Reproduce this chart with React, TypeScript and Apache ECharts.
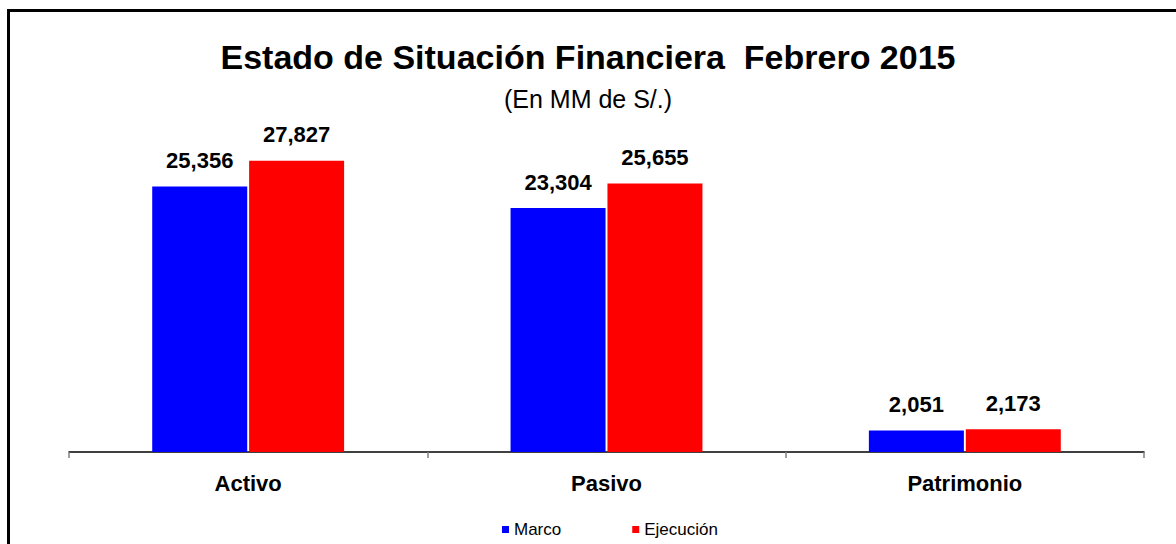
import React, { useEffect, useRef } from "react";
import * as echarts from "echarts";

const categories = ["Activo", "Pasivo", "Patrimonio"];
const marco = [25356, 23304, 2051];
const ejecucion = [27827, 25655, 2173];
const seriesNames = ["Marco", "Ejecución"];
const titleText = "Estado de Situación Financiera  Febrero 2015";
const subtitleText = "(En MM de S/.)";

const FONT = "'Liberation Sans', Arial, sans-serif";

export default function App() {
  const ref = useRef<HTMLDivElement>(null);
  useEffect(() => {
    if (!ref.current) return;
    const chart = echarts.init(ref.current, null, { renderer: "svg" });
    const fmt = (p: any) => Number(p.value).toLocaleString("en-US");
    const labelStyle = {
      show: true,
      position: "top",
      distance: 15,
      formatter: fmt,
      fontFamily: FONT,
      fontWeight: "bold",
      fontSize: 22,
      color: "#000",
    };
    chart.setOption({
      animation: false,
      backgroundColor: "#fff",
      title: [
        {
          text: titleText,
          left: "center",
          top: 35,
          textStyle: { fontFamily: FONT, fontWeight: "bold", fontSize: 34, color: "#000" },
        },
        {
          text: subtitleText,
          left: "center",
          top: 81,
          textStyle: { fontFamily: FONT, fontWeight: "normal", fontSize: 25, color: "#000" },
        },
      ],
      legend: {
        left: 497,
        top: 516,
        icon: "rect",
        itemWidth: 7,
        itemHeight: 7,
        itemGap: 71,
        textStyle: { fontFamily: FONT, fontSize: 17, color: "#000" },
        data: seriesNames,
      },
      grid: { left: 69, right: 32, top: 138, bottom: 92, containLabel: false },
      xAxis: {
        type: "category",
        data: categories,
        axisLine: { lineStyle: { color: "#000", width: 1.5 } },
        axisTick: { show: true, length: 6, lineStyle: { color: "#808080", width: 1.5 } },
        axisLabel: {
          margin: 20,
          fontFamily: FONT,
          fontWeight: "bold",
          fontSize: 22,
          color: "#000",
        },
      },
      yAxis: {
        type: "value",
        min: 0,
        max: 30000,
        show: false,
        splitLine: { show: false },
      },
      series: [
        {
          name: seriesNames[0],
          type: "bar",
          data: marco,
          barWidth: 95,
          barGap: "2%",
          itemStyle: { color: "#0000FF" },
          label: labelStyle,
        },
        {
          name: seriesNames[1],
          type: "bar",
          data: ejecucion,
          barWidth: 95,
          itemStyle: { color: "#FF0000" },
          label: labelStyle,
        },
      ],
      graphic: [
        {
          type: "rect",
          shape: { x: 8.5, y: 10.5, width: 1400, height: 800 },
          style: { fill: "none", stroke: "#000", lineWidth: 3 },
          silent: true,
        },
      ],
    });
    return () => chart.dispose();
  }, []);
  return (
    <div
      ref={ref}
      style={{ position: "absolute", left: 0, top: 0, width: 1176, height: 544 }}
    />
  );
}
